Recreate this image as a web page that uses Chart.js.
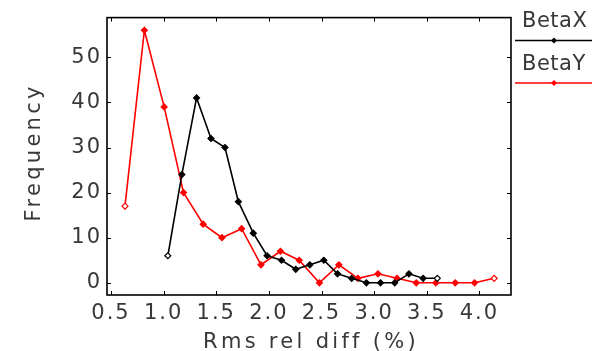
<!DOCTYPE html>
<html>
<head>
<meta charset="utf-8">
<script src="https://cdn.jsdelivr.net/npm/chart.js@4"></script>
<style>
  html, body { margin: 0; padding: 0; background: #fff; }
  #wrap { width: 596px; height: 351px; }
</style>
</head>
<body>
<div id="wrap"><canvas id="c" width="596" height="351"></canvas></div>
<script>
// ---- data ----
const seriesNames = ['BetaX', 'BetaY'];
const betaXx = [1.04, 1.173, 1.313, 1.45, 1.583, 1.71, 1.852, 1.983, 2.12, 2.255, 2.389, 2.522, 2.652, 2.786, 2.926, 3.06, 3.195, 3.33, 3.465, 3.60];
const betaXy = [6, 24, 41, 32, 30, 18, 11, 6, 5, 3, 4, 5, 2, 1, 0, 0, 0, 2, 1, 1];
const betaYx = [0.633, 0.817, 1.005, 1.189, 1.376, 1.554, 1.741, 1.925, 2.11, 2.288, 2.48, 2.665, 2.846, 3.036, 3.217, 3.40, 3.586, 3.77, 3.954, 4.14];
const betaYy = [17, 56, 39, 20, 13, 10, 12, 4, 7, 5, 0, 4, 1, 2, 1, 0, 0, 0, 0, 1];
const xTicks = [0.5, 1.0, 1.5, 2.0, 2.5, 3.0, 3.5, 4.0];
const yTicks = [0, 10, 20, 30, 40, 50];
const xTitle = 'Rms rel diff (%)';
const yTitle = 'Frequency';

const FONT = 'DejaVu Sans';
const TXT = '#383838';
const colors = ['#000000', '#ff0000'];

function pts(xs, ys) { return xs.map((x, i) => ({ x: x, y: ys[i] })); }
function fills(n, c) { return Array.from({ length: n }, (_, i) => (i === 0 || i === n - 1) ? '#ffffff' : c); }

function setSpacing(chart) { chart.ctx.letterSpacing = '2px'; }

const spacingPlugin = {
  id: 'spacing',
  beforeUpdate: setSpacing,
  beforeLayout: setSpacing,
  beforeDraw: setSpacing
};

const framePlugin = {
  id: 'frame',
  afterDatasetsDraw(chart) {
    const ctx = chart.ctx;
    const a = chart.chartArea;
    const xs = chart.scales.x, ys = chart.scales.y;
    ctx.save();
    ctx.strokeStyle = '#000';
    ctx.lineWidth = 1;
    const tl = 4;
    ctx.beginPath();
    xTicks.forEach(v => {
      const px = Math.round(xs.getPixelForValue(v)) + 0.5;
      ctx.moveTo(px, a.bottom); ctx.lineTo(px, a.bottom - tl);
      ctx.moveTo(px, a.top); ctx.lineTo(px, a.top + tl);
    });
    yTicks.forEach(v => {
      const py = Math.round(ys.getPixelForValue(v)) + 0.5;
      ctx.moveTo(a.left, py); ctx.lineTo(a.left + tl, py);
      ctx.moveTo(a.right, py); ctx.lineTo(a.right - tl, py);
    });
    ctx.stroke();
    ctx.lineWidth = 1.6;
    ctx.strokeRect(a.left, a.top, a.right - a.left, a.bottom - a.top);
    ctx.restore();
  }
};

const textPlugin = {
  id: 'texts',
  afterDraw(chart) {
    const ctx = chart.ctx;
    const a = chart.chartArea;
    ctx.save();
    ctx.font = '21px "' + FONT + '"';
    ctx.fillStyle = TXT;
    ctx.textBaseline = 'alphabetic';
    // axis titles
    ctx.letterSpacing = '3.3px';
    ctx.textAlign = 'center';
    ctx.fillText(xTitle, (a.left + a.right) / 2 + 2, 348);
    ctx.save();
    ctx.translate(40, (a.top + a.bottom) / 2 - 2);
    ctx.rotate(-Math.PI / 2);
    ctx.fillText(yTitle, 2, 0);
    ctx.restore();
    // legend
    ctx.letterSpacing = '0.5px';
    ctx.textAlign = 'left';
    const x0 = a.right + 4, x1 = 592, mx = 554;
    seriesNames.forEach((name, i) => {
      const baseY = 27 + i * 43;
      const lineY = 40.5 + i * 42.5;
      ctx.fillStyle = TXT;
      ctx.fillText(name, a.right + 11, baseY);
      ctx.strokeStyle = colors[i];
      ctx.lineWidth = 1.5;
      ctx.beginPath(); ctx.moveTo(x0, lineY); ctx.lineTo(x1, lineY); ctx.stroke();
      ctx.fillStyle = colors[i];
      ctx.beginPath();
      ctx.moveTo(mx, lineY - 3); ctx.lineTo(mx + 3, lineY); ctx.lineTo(mx, lineY + 3); ctx.lineTo(mx - 3, lineY);
      ctx.closePath(); ctx.fill();
    });
    ctx.restore();
  }
};

const mkSet = (label, xs, ys, c) => ({
  label: label,
  data: pts(xs, ys),
  borderColor: c,
  borderWidth: 1.6,
  pointStyle: 'rectRot',
  pointRadius: 3,
  pointBorderWidth: 1.2,
  pointBorderColor: c,
  pointBackgroundColor: fills(xs.length, c),
  tension: 0,
  fill: false
});

new Chart(document.getElementById('c'), {
  type: 'line',
  data: {
    datasets: [
      mkSet(seriesNames[0], betaXx, betaXy, colors[0]),
      mkSet(seriesNames[1], betaYx, betaYy, colors[1])
    ]
  },
  options: {
    responsive: false,
    animation: false,
    devicePixelRatio: 1,
    layout: { padding: { left: 0, right: 85, top: 12, bottom: 0 } },
    plugins: { legend: { display: false }, tooltip: { enabled: false }, title: { display: false } },
    scales: {
      x: {
        type: 'linear',
        min: 0.462, max: 4.30,
        grid: { display: false, drawTicks: false },
        border: { display: false },
        afterBuildTicks: s => { s.ticks = xTicks.map(v => ({ value: v })); },
        afterFit: s => { s.height = 56; },
        ticks: {
          autoSkip: false, maxRotation: 0, padding: 6,
          color: TXT, font: { family: FONT, size: 21 },
          callback: v => Number(v).toFixed(1)
        },
        title: { display: false }
      },
      y: {
        type: 'linear',
        min: -2.7, max: 58.8,
        grid: { display: false, drawTicks: false },
        border: { display: false },
        afterBuildTicks: s => { s.ticks = yTicks.map(v => ({ value: v })); },
        afterFit: s => { s.width = 107; },
        ticks: {
          autoSkip: false, padding: 5,
          color: TXT, font: { family: FONT, size: 21 },
          callback: v => String(v)
        },
        title: { display: false }
      }
    }
  },
  plugins: [spacingPlugin, framePlugin, textPlugin]
});
</script>
</body>
</html>
